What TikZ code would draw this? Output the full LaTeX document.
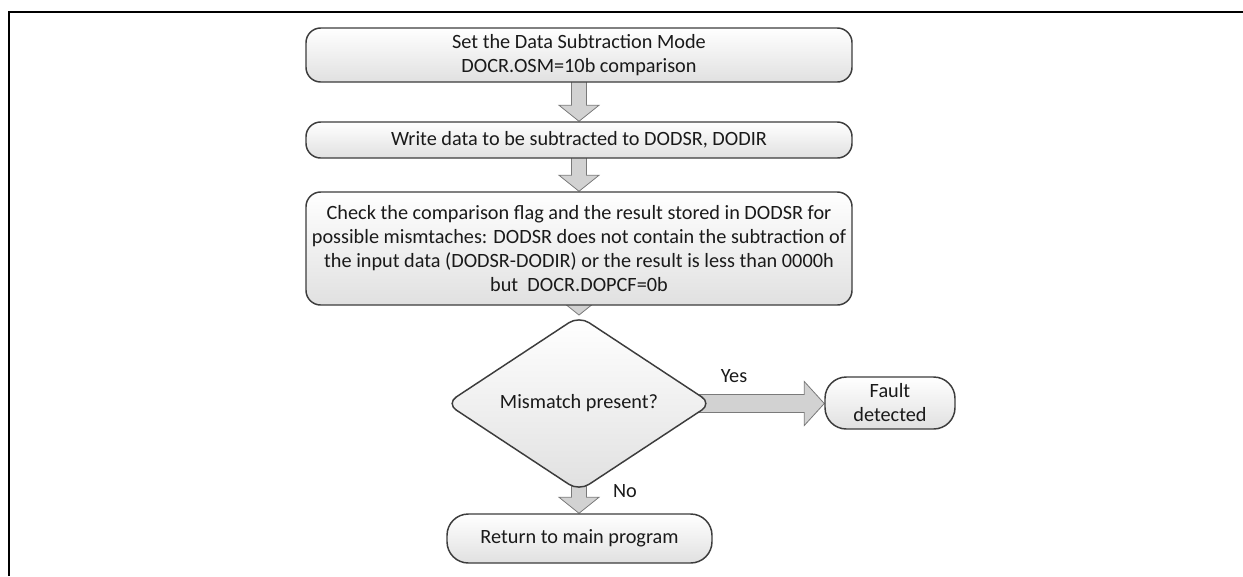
\documentclass[tikz,border=0pt]{standalone}
\usepackage{fontspec}
\setmainfont{Carlito}
\usetikzlibrary{shapes.geometric,backgrounds,calc}
\definecolor{boxline}{HTML}{3C3C3C}
\definecolor{arrfill}{HTML}{D2D2D2}
\definecolor{arrline}{HTML}{7A7A7A}
\definecolor{txt}{HTML}{1A1A1A}
\tikzset{
  procbox/.style={rectangle, rounded corners=11pt, draw=boxline, line width=1.1pt,
    top color=white, bottom color=black!12, text=txt, align=center,
    font=\fontsize{15.2pt}{18pt}\selectfont, inner sep=0pt},
  termbox/.style={procbox, rounded corners=16pt},
  decbox/.style={diamond, draw=boxline, line width=1.1pt, rounded corners=9pt,
    top color=white, bottom color=black!12, text=txt, align=center,
    font=\fontsize{15.2pt}{18pt}\selectfont, inner sep=0pt},
  blockarrow/.style={fill=arrfill, draw=arrline, line width=0.6pt, line join=miter},
  lbl/.style={text=txt, font=\fontsize{15.2pt}{18pt}\selectfont, inner sep=0pt}
}
\newcommand\vblock[2]{%
  \path[blockarrow] let \p1=(#1.center), \p3=(#2.north) in
    (\x1-5.6pt,\y1) -- (\x1-5.6pt,\y3+12pt) -- (\x1-15pt,\y3+12pt) -- (\x1,\y3)
    -- (\x1+15pt,\y3+12pt) -- (\x1+5.6pt,\y3+12pt) -- (\x1+5.6pt,\y1) -- cycle;}
\newcommand\hblock[2]{%
  \path[blockarrow] let \p1=(#1.center), \p3=(#2.west) in
    (\x1,\y1+6.8pt) -- (\x3-15pt,\y1+6.8pt) -- (\x3-15pt,\y1+16.5pt) -- (\x3,\y1)
    -- (\x3-15pt,\y1-16.5pt) -- (\x3-15pt,\y1-6.8pt) -- (\x1,\y1-6.8pt) -- cycle;}
\begin{document}
\begin{tikzpicture}[x=0.75pt,y=-0.75pt]
\useasboundingbox (0,0) rectangle (1243,576);
% frame (cropped)
\draw[line width=1.6pt, black] (9,576) -- (9,12.3) -- (1243,12.3);

\node[procbox, minimum width=546*0.75pt, minimum height=54*0.75pt] (b1) at (579,55)
  {Set the Data Subtraction Mode\\DOCR.OSM=10b comparison};
\node[procbox, minimum width=546*0.75pt, minimum height=36*0.75pt] (b2) at (579,140)
  {Write data to be subtracted to DODSR, DODIR};
\node[procbox, minimum width=546*0.75pt, minimum height=113*0.75pt] (b3) at (579,248.5)
  {Check the comparison flag and the result stored in DODSR for\\
   possible mismtaches: DODSR does not contain the subtraction of\\
   the input data (DODSR-DODIR) or the result is less than 0000h\\
   but\ \ DOCR.DOPCF=0b};
\node[decbox, minimum width=266*0.75pt, minimum height=141*0.75pt] (dec) at (579,403.5)
  {Mismatch present?};
\node[termbox, minimum width=130*0.75pt, minimum height=52*0.75pt] (fault) at (890,403)
  {Fault\\detected};
\node[termbox, minimum width=265*0.75pt, minimum height=49*0.75pt] (ret) at (579.5,538.5)
  {Return to main program};

\begin{scope}[on background layer]
\fill[white] (0,0) rectangle (1243,576);
\vblock{b1}{b2}
\vblock{b2}{b3}
\vblock{b3}{dec}
\vblock{dec}{ret}
\hblock{dec}{fault}
\end{scope}

\node[lbl] (yes) at (734,376) {Yes};
\node[lbl] (no) at (625,491) {No};
\end{tikzpicture}
\end{document}
